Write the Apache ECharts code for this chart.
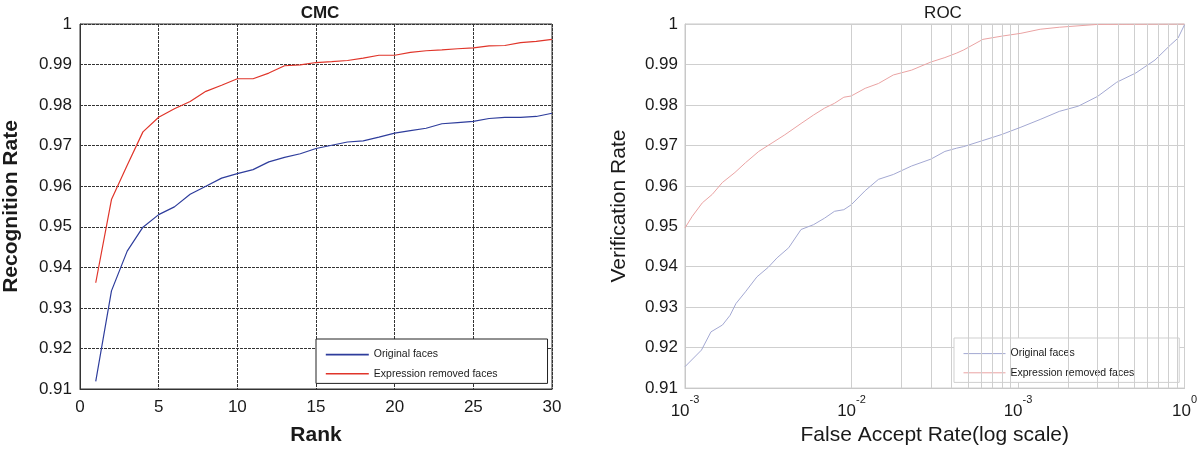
<!DOCTYPE html>
<html><head><meta charset="utf-8">
<script src="https://cdn.jsdelivr.net/npm/echarts@6/dist/echarts.min.js"></script>
<style>html,body{margin:0;padding:0;background:#fff}#c{width:1200px;height:451px}</style>
</head><body><div id="c"></div>
<script>
// ---------- CMC data ----------
const ranks = [1,2,3,4,5,6,7,8,9,10,11,12,13,14,15,16,17,18,19,20,21,22,23,24,25,26,27,28,29,30];
const cmcOriginal = [0.9119,0.9342,0.9440,0.9499,0.9530,0.9549,0.9580,0.9600,0.9620,0.9631,0.9641,0.9660,0.9671,0.9680,0.9693,0.9701,0.9709,0.9712,0.9721,0.9731,0.9737,0.9743,0.9754,0.9757,0.9760,0.9767,0.9770,0.9770,0.9772,0.9780];
const cmcExpression = [0.9362,0.9567,0.9652,0.9734,0.9770,0.9791,0.9809,0.9834,0.9849,0.9865,0.9865,0.9879,0.9897,0.9899,0.9905,0.9907,0.9910,0.9916,0.9923,0.9923,0.9930,0.9934,0.9936,0.9939,0.9941,0.9946,0.9947,0.9954,0.9957,0.9962];

// ---------- ROC data ----------
const rocFarOriginal = [0.001,0.001256,0.001432,0.001679,0.001866,0.002023,0.002307,0.002704,0.003170,0.003573,0.004198,0.004977,0.005916,0.006887,0.007907,0.008995,0.009954,0.01208,0.01452,0.01782,0.02296,0.02999,0.03639,0.04276,0.04721,0.06152,0.07998,0.1042,0.1358,0.1770,0.2307,0.3006,0.3917,0.5105,0.6653,0.8222,0.9141,1];
const rocOriginal = [0.9153,0.9194,0.9239,0.9256,0.9280,0.9309,0.9338,0.9375,0.9399,0.9422,0.9447,0.9492,0.9504,0.9520,0.9537,0.9541,0.9553,0.9588,0.9616,0.9628,0.9649,0.9666,0.9685,0.9693,0.9697,0.9712,0.9727,0.9745,0.9764,0.9784,0.9797,0.9821,0.9856,0.9879,0.9911,0.9948,0.9965,0.9998];
const rocFarExpression = [0.001,0.001107,0.001271,0.001459,0.001675,0.001995,0.002307,0.002773,0.003334,0.003972,0.004977,0.005916,0.006887,0.007907,0.008995,0.009954,0.01208,0.01452,0.01782,0.02296,0.02999,0.03639,0.04276,0.04721,0.06152,0.07998,0.1042,0.1358,0.1770,0.3006,1];
const rocExpression = [0.9496,0.9525,0.9558,0.9579,0.9608,0.9633,0.9657,0.9685,0.9706,0.9726,0.9754,0.9775,0.9792,0.9804,0.9819,0.9822,0.9841,0.9853,0.9874,0.9886,0.9906,0.9917,0.9928,0.9936,0.9962,0.9970,0.9977,0.9987,0.9992,0.9999,1.0];

// ---------- tick labels ----------
const rocTickExponents = ['-3','-2','-3','0'];   // as printed in the original figure
const decadeStarts = [0.001, 0.01, 0.1];
const minorMultipliers = [2,3,4,5,6,7,8,9];

const FONT = '"Liberation Sans", Arial, Helvetica, sans-serif';
const TXT = '#1a1a1a';

function pairs(xs, ys){ return xs.map((x,i)=>[x, ys[i]]); }
const minorGrid = [];
decadeStarts.forEach(d => minorMultipliers.forEach(m => minorGrid.push(d*m)));

const chart = echarts.init(document.getElementById('c'), null, {renderer:'canvas'});

const yLabel = {
  fontSize: 17, fontFamily: FONT, color: TXT,
  formatter: v => (Math.abs(v-1) < 1e-9 ? '1' : v.toFixed(2))
};

const option = {
  animation: false,
  backgroundColor: '#fff',
  textStyle: {fontFamily: FONT},
  title: [
    {text:'CMC', left: 315, top: 0, textAlign:'center',
     textStyle:{fontSize:17, fontWeight:'bold', color:TXT, fontFamily:FONT}},
    {text:'ROC', left: 938, top: 0, textAlign:'center',
     textStyle:{fontSize:17, fontWeight:'normal', color:TXT, fontFamily:FONT}}
  ],
  grid: [
    {left:78, top:24, width:474, height:366, show:true, borderColor:'#333', borderWidth:1, backgroundColor:'#fff'},
    {left:685, top:24, width:502, height:366, show:true, borderColor:'#c8c8c8', borderWidth:1, backgroundColor:'#fff'}
  ],
  xAxis: [
    {type:'value', gridIndex:0, min:0, max:30, interval:5,
     name:'Rank', nameLocation:'middle', nameGap:36,
     nameTextStyle:{fontSize:21, fontWeight:'bold', color:TXT, fontFamily:FONT},
     axisLine:{show:true, lineStyle:{color:'#333', width:1}},
     axisTick:{show:false},
     axisLabel:{fontSize:17, color:TXT, fontFamily:FONT, margin:10},
     splitLine:{show:true, lineStyle:{color:'#333', width:1, type:[3,1]}}},
    {type:'log', logBase:10, gridIndex:1, min:0.001, max:1,
     name:'False Accept Rate(log scale)', nameLocation:'middle', nameGap:36,
     nameTextStyle:{fontSize:21, fontWeight:'normal', color:TXT, fontFamily:FONT},
     axisLine:{show:true, lineStyle:{color:'#c8c8c8', width:1}},
     axisTick:{show:false},
     axisLabel:{margin:6, color:TXT, fontFamily:FONT,
       formatter: v => {
         const e = Math.round(Math.log10(v));
         return '{b|10}{e|' + rocTickExponents[e+3] + '}';
       },
       rich:{
         b:{fontSize:17, fontFamily:FONT, color:TXT, lineHeight:26, verticalAlign:'bottom'},
         e:{fontSize:11, fontFamily:FONT, color:TXT, lineHeight:26, verticalAlign:'top'}
       }},
     splitLine:{show:true, lineStyle:{color:'#cfcfcf', width:1}}}
  ],
  yAxis: [
    {type:'value', gridIndex:0, min:0.91, max:1, interval:0.01,
     name:'Recognition Rate', nameLocation:'middle', nameGap:58,
     nameTextStyle:{fontSize:21, fontWeight:'bold', color:TXT, fontFamily:FONT},
     axisLine:{show:true, lineStyle:{color:'#333', width:1}},
     axisTick:{show:false},
     axisLabel:Object.assign({margin:8}, yLabel),
     splitLine:{show:true, lineStyle:{color:'#333', width:1, type:[3,1]}}},
    {type:'value', gridIndex:1, min:0.91, max:1, interval:0.01,
     name:'Verification Rate', nameLocation:'middle', nameGap:55,
     nameTextStyle:{fontSize:21, fontWeight:'normal', color:TXT, fontFamily:FONT},
     axisLine:{show:true, lineStyle:{color:'#c8c8c8', width:1}},
     axisTick:{show:false},
     axisLabel:Object.assign({margin:7}, yLabel),
     splitLine:{show:true, lineStyle:{color:'#cfcfcf', width:1}}}
  ],
  legend: [
    {orient:'vertical', left:316, top:339, padding:[10,50,4,9],
     itemWidth:43, itemHeight:14, itemGap:8,
     itemStyle:{opacity:0},
     lineStyle:{width:1.6},
     backgroundColor:'#fff', borderColor:'#222', borderWidth:1, borderRadius:0,
     data:['Original faces','Expression removed faces'],
     textStyle:{fontSize:10.5, color:TXT, fontFamily:FONT}},
    {orient:'vertical', left:954, top:338, padding:[10,45,4,9],
     itemWidth:42, itemHeight:14, itemGap:8,
     itemStyle:{opacity:0},
     lineStyle:{width:1},
     backgroundColor:'#fff', borderColor:'#cfcfcf', borderWidth:1, borderRadius:0,
     data:['Original faces (ROC)','Expression removed faces (ROC)'],
     formatter: n => n.replace(' (ROC)',''),
     textStyle:{fontSize:10.5, color:TXT, fontFamily:FONT}}
  ],
  series: [
    {name:'Original faces', type:'line', xAxisIndex:0, yAxisIndex:0, symbol:'none',
     data:pairs(ranks, cmcOriginal), lineStyle:{color:'#2e3d9c', width:1.2}, itemStyle:{color:'#2e3d9c'}, z:3},
    {name:'Expression removed faces', type:'line', xAxisIndex:0, yAxisIndex:0, symbol:'none',
     data:pairs(ranks, cmcExpression), lineStyle:{color:'#e0352a', width:1.2}, itemStyle:{color:'#e0352a'}, z:3},
    {name:'minor grid', type:'line', xAxisIndex:1, yAxisIndex:1, symbol:'none',
     data:[[0.001,0.91]], lineStyle:{opacity:0}, z:1, silent:true,
     markLine:{silent:true, symbol:['none','none'], label:{show:false},
       lineStyle:{color:'#cfcfcf', width:1, type:'solid'},
       data:minorGrid.map(v=>({xAxis:v}))}},
    {name:'Original faces (ROC)', type:'line', xAxisIndex:1, yAxisIndex:1, symbol:'none',
     data:pairs(rocFarOriginal, rocOriginal), lineStyle:{color:'#a3a8d2', width:1}, itemStyle:{color:'#a3a8d2'}, z:3},
    {name:'Expression removed faces (ROC)', type:'line', xAxisIndex:1, yAxisIndex:1, symbol:'none',
     data:pairs(rocFarExpression, rocExpression), lineStyle:{color:'#eaa3a3', width:1}, itemStyle:{color:'#eaa3a3'}, z:3}
  ]
};
chart.setOption(option);
</script></body></html>
